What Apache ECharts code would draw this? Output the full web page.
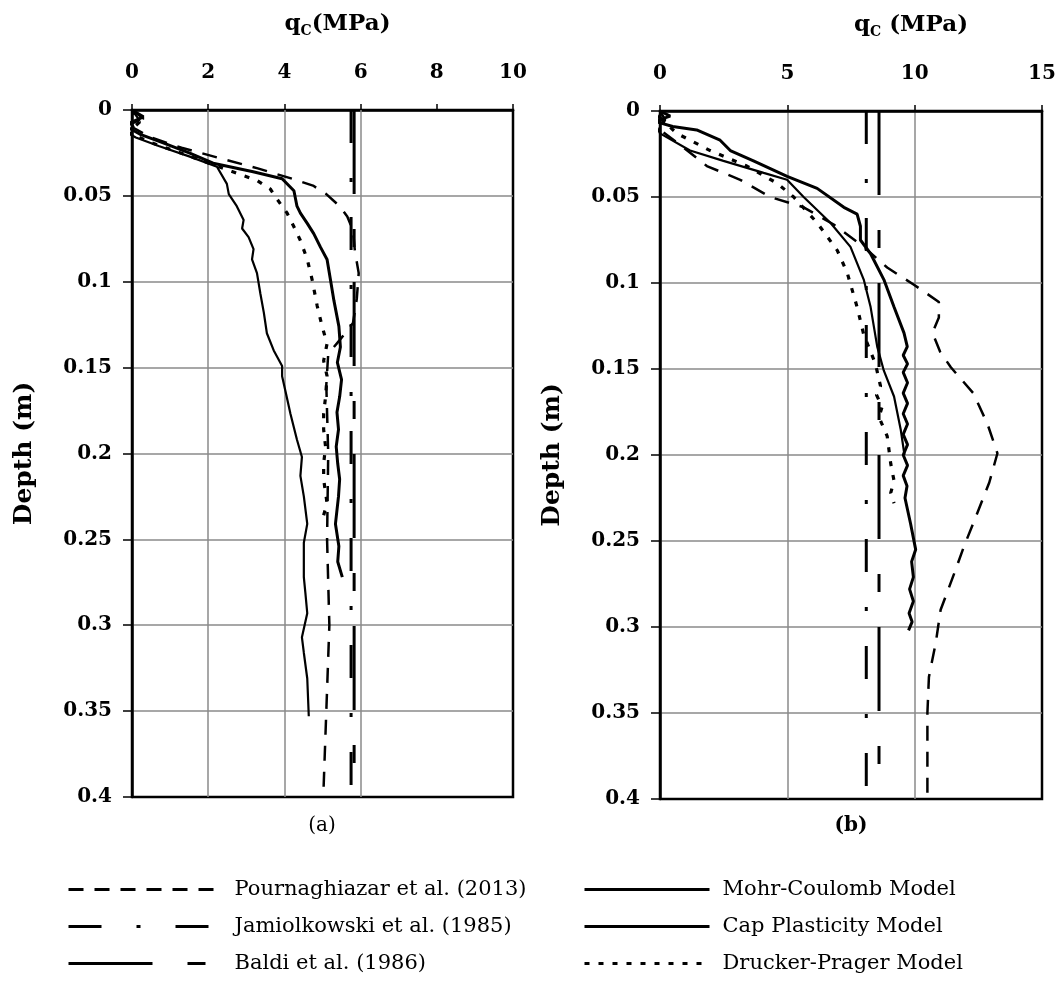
<!DOCTYPE html>
<html>
<head>
<meta charset="utf-8">
<title>Cone resistance profiles</title>
<script src="https://cdn.jsdelivr.net/npm/echarts@6/dist/echarts.min.js"></script>
<style>
  html, body { margin: 0; padding: 0; background: #ffffff; }
  #chart { width: 1061px; height: 990px; }
</style>
</head>
<body>
<div id="chart"></div>
<script>
// ---- axis ticks ----
const depthTicks = [0, 0.05, 0.1, 0.15, 0.2, 0.25, 0.3, 0.35, 0.4];
const qcTicksA = [0, 2, 4, 6, 8, 10];
const qcTicksB = [0, 5, 10, 15];
const qcGridA = [2, 4, 6];          // vertical grid lines drawn in panel (a)

// ---- series names ----
const nPourn = 'Pournaghiazar et al. (2013)';
const nJam = 'Jamiolkowski et al. (1985)';
const nBaldi = 'Baldi et al. (1986)';
const nMC = 'Mohr-Coulomb Model';
const nCap = 'Cap Plasticity Model';
const nDP = 'Drucker-Prager Model';

// ---- panel (a): [qc (MPa), depth (m)] ----
const pournA = [[0,0],[0.3,0.005],[0,0.01],[0.5,0.016],[1.3,0.022],[2.3,0.028],[3.3,0.034],[4.2,0.04],[4.75,0.044],[5.1,0.049],[5.45,0.056],[5.65,0.062],[5.8,0.07],[5.85,0.082],[5.95,0.095],[5.9,0.11],[5.8,0.124],[5.45,0.134],[5.15,0.142],[5.1,0.16],[5.15,0.2],[5.12,0.25],[5.18,0.3],[5.1,0.35],[5.02,0.4]];
const jamA = [[5.75,0],[5.75,0.4]];
const baldiA = [[5.83,0],[5.83,0.4]];
const mcA = [[0,0],[0.3,0.004],[-0.2,0.009],[0.2,0.014],[0.8,0.019],[1.5,0.025],[2.13,0.031],[3.18,0.036],[3.94,0.04],[4.25,0.047],[4.33,0.056],[4.42,0.06],[4.6,0.066],[4.77,0.072],[4.95,0.08],[5.12,0.087],[5.21,0.099],[5.3,0.111],[5.43,0.126],[5.47,0.138],[5.39,0.147],[5.5,0.157],[5.45,0.167],[5.38,0.176],[5.42,0.186],[5.36,0.196],[5.4,0.206],[5.45,0.215],[5.42,0.225],[5.34,0.241],[5.43,0.254],[5.4,0.263],[5.52,0.272]];
const capA = [[0,0],[0.2,0.006],[-0.3,0.011],[0.1,0.016],[0.7,0.021],[1.5,0.027],[2.23,0.033],[2.49,0.043],[2.54,0.049],[2.75,0.056],[2.93,0.064],[2.89,0.069],[3.06,0.074],[3.19,0.081],[3.15,0.087],[3.28,0.095],[3.37,0.107],[3.46,0.118],[3.54,0.13],[3.72,0.14],[3.94,0.149],[3.94,0.155],[4.05,0.166],[4.16,0.177],[4.33,0.192],[4.46,0.202],[4.42,0.213],[4.51,0.225],[4.6,0.241],[4.51,0.252],[4.51,0.272],[4.55,0.281],[4.6,0.293],[4.46,0.307],[4.51,0.316],[4.6,0.331],[4.64,0.353]];
const dpA = [[0,0],[0.2,0.007],[-0.1,0.013],[0.5,0.019],[1.4,0.026],[2.4,0.034],[3.28,0.041],[3.63,0.046],[3.81,0.052],[4.07,0.06],[4.25,0.068],[4.42,0.076],[4.6,0.087],[4.73,0.099],[4.86,0.114],[4.99,0.126],[5.12,0.136],[5.03,0.146],[5.12,0.155],[5.08,0.167],[5.03,0.177],[5.03,0.186],[5.08,0.196],[5.03,0.206],[5.03,0.215],[5.12,0.229],[4.99,0.239]];

// ---- panel (b): [qc (MPa), depth (m)] ----
const pournB = [[0,0],[0.2,0.005],[0,0.011],[0.9,0.021],[1.84,0.032],[3.15,0.04],[4.33,0.05],[5.64,0.056],[6.82,0.066],[8.0,0.079],[8.92,0.091],[9.97,0.101],[10.95,0.111],[10.95,0.12],[10.7,0.129],[11.0,0.14],[11.42,0.149],[12.3,0.164],[12.86,0.182],[13.25,0.199],[12.93,0.216],[12.4,0.236],[11.94,0.253],[11.55,0.269],[11.02,0.29],[10.83,0.309],[10.56,0.329],[10.5,0.35],[10.5,0.375],[10.5,0.4]];
const jamB = [[8.1,0],[8.1,0.4]];
const baldiB = [[8.6,0],[8.6,0.4]];
const mcB = [[0,0],[0.4,0.003],[-0.2,0.006],[0.5,0.009],[1.44,0.011],[2.36,0.017],[2.76,0.023],[3.67,0.029],[4.99,0.038],[6.17,0.045],[7.22,0.056],[7.74,0.06],[7.87,0.067],[7.87,0.075],[8.27,0.083],[8.79,0.098],[9.19,0.114],[9.58,0.129],[9.71,0.137],[9.55,0.142],[9.72,0.147],[9.55,0.152],[9.72,0.158],[9.55,0.164],[9.72,0.17],[9.55,0.176],[9.72,0.182],[9.55,0.188],[9.72,0.194],[9.55,0.2],[9.72,0.206],[9.55,0.212],[9.7,0.218],[9.62,0.225],[9.84,0.24],[10.04,0.255],[9.88,0.262],[9.95,0.271],[9.8,0.278],[9.95,0.285],[9.78,0.292],[9.9,0.297],[9.76,0.302]];
const capB = [[0,0.002],[-0.2,0.007],[0,0.013],[1.18,0.023],[2.49,0.029],[4.07,0.036],[4.99,0.04],[5.64,0.05],[6.69,0.065],[7.48,0.079],[8.0,0.098],[8.27,0.114],[8.53,0.137],[8.79,0.151],[9.19,0.166],[9.45,0.185],[9.6,0.2]];
const dpB = [[0,0.004],[0.66,0.013],[1.97,0.023],[3.41,0.032],[4.6,0.042],[5.25,0.05],[6.17,0.065],[6.96,0.081],[7.35,0.094],[7.74,0.114],[8.0,0.13],[8.46,0.147],[8.66,0.16],[8.5,0.165],[8.72,0.172],[8.6,0.178],[8.92,0.189],[9.06,0.205],[9.19,0.215],[9.06,0.222],[9.19,0.228]];

// ---- styling ----
const SERIF = '"DejaVu Serif", "Liberation Serif", serif';
const INK = '#000000';
const GRID_GRAY = '#8a8a8a';

const lineStyles = {
  [nPourn]: { width: 2.5, type: [15, 11] },
  [nJam]:   { width: 3, type: [33, 35, 4, 35] },
  [nBaldi]: { width: 3, type: [84, 35, 18, 35] },
  [nMC]:    { width: 3, type: 'solid' },
  [nCap]:   { width: 2.2, type: 'solid' },
  [nDP]:    { width: 3.2, type: [5, 9] }
};

function curve(name, data, panel) {
  return {
    name: name,
    type: 'line',
    xAxisIndex: panel,
    yAxisIndex: panel,
    data: data,
    symbol: 'none',
    showSymbol: false,
    smooth: false,
    lineStyle: Object.assign({ color: INK }, lineStyles[name]),
    itemStyle: { color: INK },
    emphasis: { disabled: true },
    z: 3
  };
}

function xAxisFor(panel, ticks, nameText, shift) {
  return {
    gridIndex: panel,
    type: 'value',
    position: 'top',
    min: ticks[0],
    max: ticks[ticks.length - 1],
    interval: ticks[1] - ticks[0],
    axisLine: { show: true, onZero: false, lineStyle: { color: INK, width: 2.5 } },
    axisTick: { show: true, inside: false, length: 6, lineStyle: { color: INK, width: 1.5 } },
    axisLabel: { margin: 27, color: INK, fontFamily: SERIF, fontWeight: 'bold', fontSize: 20 },
    splitLine: { show: panel === 1, showMinLine: false, showMaxLine: false, lineStyle: { color: GRID_GRAY, width: 1.5 } },
    name: nameText,
    nameLocation: 'middle',
    nameGap: 72,
    nameTextStyle: {
      padding: [0, 0, 0, shift],
      rich: {
        q: { fontFamily: SERIF, fontWeight: 'bold', fontSize: 23, color: INK, lineHeight: 28 },
        s: { fontFamily: SERIF, fontWeight: 'bold', fontSize: 14, color: INK, verticalAlign: 'bottom', lineHeight: 16 }
      }
    }
  };
}

function yAxisFor(panel) {
  return {
    gridIndex: panel,
    type: 'value',
    inverse: true,
    min: depthTicks[0],
    max: depthTicks[depthTicks.length - 1],
    interval: depthTicks[1] - depthTicks[0],
    axisLine: { show: true, onZero: false, lineStyle: { color: INK, width: 2.5 } },
    axisTick: { show: true, inside: false, length: 9, lineStyle: { color: INK, width: 1.5 } },
    axisLabel: { margin: 20, color: INK, fontFamily: SERIF, fontWeight: 'bold', fontSize: 20 },
    splitLine: { show: true, showMinLine: false, showMaxLine: false, lineStyle: { color: GRID_GRAY, width: 1.5 } },
    name: 'Depth (m)',
    nameLocation: 'middle',
    nameGap: 95,
    nameTextStyle: { fontFamily: SERIF, fontWeight: 'bold', fontSize: 25, color: INK }
  };
}

const gridBox = { show: true, borderColor: INK, borderWidth: 2.5, backgroundColor: 'transparent', containLabel: false };

// panel (a) vertical grid lines at selected qc values
const gridLinesA = {
  name: 'gridA',
  type: 'line',
  xAxisIndex: 0,
  yAxisIndex: 0,
  data: [],
  silent: true,
  markLine: {
    silent: true,
    symbol: 'none',
    z: 1,
    label: { show: false },
    lineStyle: { color: GRID_GRAY, width: 1.5, type: 'solid' },
    emphasis: { disabled: true },
    data: qcGridA.map(v => ({ xAxis: v }))
  }
};

const legendText = { fontFamily: SERIF, fontSize: 21, color: INK, padding: [0, 0, 0, 8] };
const legendCommon = {
  orient: 'vertical', top: 874,
  itemHeight: 14, itemGap: 16,
  selectedMode: false,
  itemStyle: { opacity: 0, borderWidth: 0 },
  lineStyle: { width: 3 },
  textStyle: legendText
};

const option = {
  animation: false,
  backgroundColor: '#ffffff',
  grid: [
    Object.assign({ left: 132, top: 110, width: 381, height: 687 }, gridBox),
    Object.assign({ left: 660, top: 111, width: 382, height: 688 }, gridBox)
  ],
  xAxis: [
    xAxisFor(0, qcTicksA, '{q|q}{s|C}{q|(MPa)}', 30),
    xAxisFor(1, qcTicksB, '{q|q}{s|C}{q| (MPa)}', 120)
  ],
  yAxis: [yAxisFor(0), yAxisFor(1)],
  legend: [
    Object.assign({ left: 62, itemWidth: 153, data: [nPourn, nJam, nBaldi] }, legendCommon),
    Object.assign({ left: 578, itemWidth: 125, data: [nMC, nCap, nDP] }, legendCommon)
  ],
  graphic: [
    { type: 'text', x: 322, y: 826, style: { text: '(a)', font: '20px ' + SERIF, fill: INK, align: 'center', verticalAlign: 'middle' } },
    { type: 'text', x: 851, y: 826, style: { text: '(b)', font: 'bold 20px ' + SERIF, fill: INK, align: 'center', verticalAlign: 'middle' } }
  ],
  series: [
    gridLinesA,
    curve(nPourn, pournA, 0),
    curve(nJam, jamA, 0),
    curve(nBaldi, baldiA, 0),
    curve(nMC, mcA, 0),
    curve(nCap, capA, 0),
    curve(nDP, dpA, 0),
    curve(nPourn, pournB, 1),
    curve(nJam, jamB, 1),
    curve(nBaldi, baldiB, 1),
    curve(nMC, mcB, 1),
    curve(nCap, capB, 1),
    curve(nDP, dpB, 1)
  ]
};

const chart = echarts.init(document.getElementById('chart'), null, { renderer: 'canvas' });
chart.setOption(option);
</script>
</body>
</html>
